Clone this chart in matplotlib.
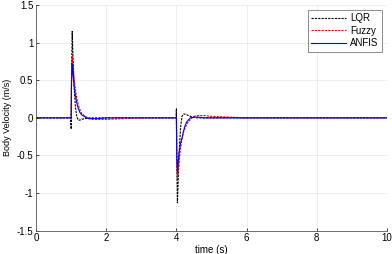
import numpy as np
import matplotlib.pyplot as plt

plt.rcParams['font.family'] = ['Liberation Sans', 'DejaVu Sans']

# time samples (s)
t = [0.0, 0.99, 1.0, 1.01, 1.03, 1.05, 1.08, 1.12, 1.16, 1.2, 1.25, 1.3, 1.4, 1.5, 1.6,
     1.8, 2.0, 2.5, 3.0, 3.5, 3.99, 4.0, 4.01, 4.03, 4.05, 4.08, 4.12, 4.16, 4.2, 4.25,
     4.3, 4.4, 4.5, 4.6, 4.8, 5.0, 5.5, 6.0, 7.0, 8.0, 9.0, 10.0]

lqr = [0.0, 0.0, -0.15, 0.55, 1.15, 0.85, 0.45, 0.15, 0.02, -0.03, -0.03, -0.02, -0.01, 0.0, 0.0,
       0.0, 0.0, 0.0, 0.0, 0.0, 0.0, 0.12, -0.55, -1.13, -0.85, -0.45, -0.12, 0.02, 0.05, 0.05,
       0.04, 0.02, 0.01, 0.0, 0.0, 0.0, 0.0, 0.0, 0.0, 0.0, 0.0, 0.0]

fuzzy = [0.0, 0.0, 0.0, 0.5, 0.82, 0.72, 0.55, 0.38, 0.26, 0.18, 0.11, 0.06, 0.02, -0.01, -0.02,
         -0.02, -0.02, -0.01, 0.0, 0.0, 0.0, 0.0, -0.5, -0.82, -0.72, -0.55, -0.4, -0.28, -0.2, -0.13,
         -0.08, -0.02, 0.02, 0.03, 0.03, 0.02, 0.01, 0.0, 0.0, 0.0, 0.0, 0.0]

anfis = [0.0, 0.0, 0.0, 0.45, 0.72, 0.6, 0.44, 0.3, 0.2, 0.13, 0.07, 0.04, 0.01, -0.01, -0.01,
         -0.01, 0.0, 0.0, 0.0, 0.0, 0.0, 0.0, -0.45, -0.72, -0.6, -0.45, -0.33, -0.27, -0.18, -0.1,
         -0.05, 0.0, 0.01, 0.01, 0.0, 0.0, 0.0, 0.0, 0.0, 0.0, 0.0, 0.0]

fig = plt.figure(figsize=(3.92, 2.54), dpi=100)
ax = fig.add_axes([0.092, 0.092, 0.895, 0.888])

ax.plot(t, lqr, color='black', linestyle='--', linewidth=0.8, dashes=(2, 1), label='LQR')
ax.plot(t, fuzzy, color='red', linestyle='--', linewidth=0.8, dashes=(2, 1), label='Fuzzy')
ax.plot(t, anfis, color='blue', linewidth=0.8, label='ANFIS')

ax.set_xlim(0, 10)
ax.set_ylim(-1.5, 1.5)
ax.set_xticks([0, 2, 4, 6, 8, 10])
ax.set_yticks([-1.5, -1, -0.5, 0, 0.5, 1, 1.5])
ax.set_yticklabels(['-1.5', '-1', '-0.5', '0', '0.5', '1', '1.5'])
ax.tick_params(labelsize=7, length=2, direction='in', width=0.5, pad=2)
ax.grid(True, color='#e8e8e8', linestyle='-', linewidth=0.5)
ax.spines['top'].set_visible(False)
ax.spines['right'].set_visible(False)
for s in ['left', 'bottom']:
    ax.spines[s].set_linewidth(0.6)
    ax.spines[s].set_color('#555555')

ax.set_xlabel('time (s)', fontsize=7, labelpad=1)
ax.set_ylabel('Body Velocity (m/s)', fontsize=6.5, labelpad=3)

leg = ax.legend(loc='upper right', fontsize=7, frameon=True, fancybox=False,
                edgecolor='#555555', handlelength=3.6, handletextpad=0.4,
                borderpad=0.35, labelspacing=0.25, borderaxespad=0.5)
leg.get_frame().set_linewidth(0.6)

fig.savefig('out.png', dpi=100)
